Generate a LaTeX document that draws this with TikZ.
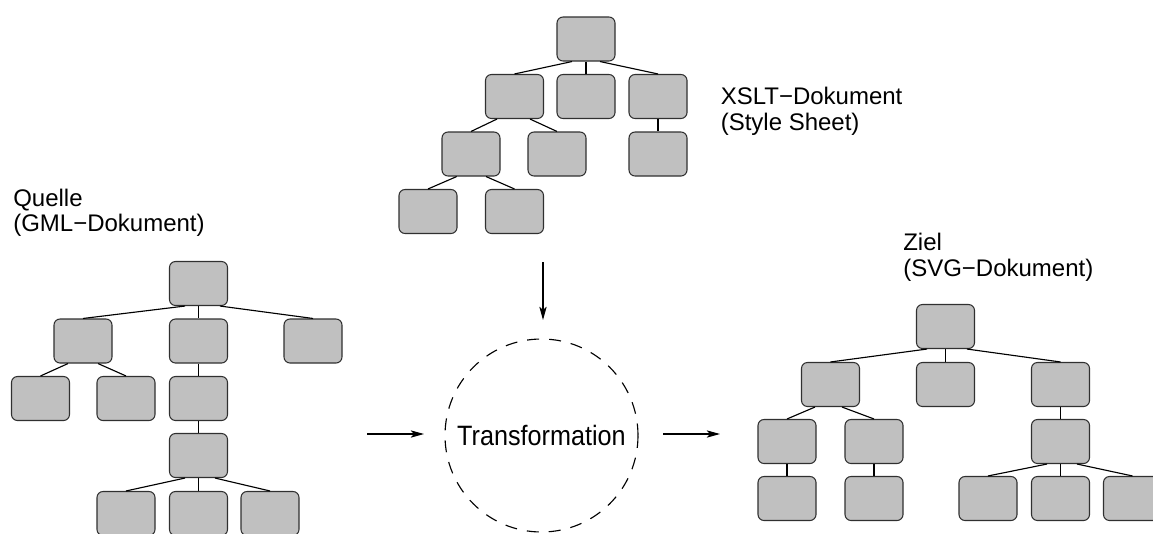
\documentclass[tikz,border=0pt]{standalone}
\usepackage{fontspec}
\setmainfont{Liberation Sans}
\usetikzlibrary{calc,arrows.meta}
\definecolor{boxgray}{HTML}{C0C0C0}
\definecolor{boxline}{HTML}{303030}
\tikzset{
  tbox/.style={rectangle, rounded corners=4.5pt, minimum width=43.5pt, minimum height=33pt, inner sep=0pt, fill=boxgray, draw=boxline, line width=0.8pt},
  tline/.style={line width=0.85pt, black},
  flow/.style={line width=0.85pt, black, -{Stealth[length=10pt, width=5.5pt, inset=2.5pt]}},
  lbl/.style={anchor=base west, inner sep=0pt, align=left, font={\fontsize{18}{19.1}\selectfont}},
}
\newcommand\tedge[3]{\draw[tline] ($(#1.south)+(#2,0)$) -- (#3.north);}
\begin{document}
\begin{tikzpicture}[x=0.75pt, y=-0.75pt]
\useasboundingbox (0,0) rectangle (1153,533);
% XSLT tree
\node[tbox] (xr) at (586,39) {};
\node[tbox] (xa) at (514.5,96.5) {};
\node[tbox] (xb) at (586,96.5) {};
\node[tbox] (xc) at (658,96.5) {};
\node[tbox] (xaa) at (471,154) {};
\node[tbox] (xab) at (557,154) {};
\node[tbox] (xca) at (658,154) {};
\node[tbox] (xaaa) at (428,211.5) {};
\node[tbox] (xaab) at (514.5,211.5) {};
\tedge{xr}{-14}{xa}
\tedge{xr}{0}{xb}
\tedge{xr}{14}{xc}
\tedge{xa}{-17.5}{xaa}
\tedge{xa}{15.5}{xab}
\tedge{xc}{0}{xca}
\tedge{xaa}{-14.3}{xaaa}
\tedge{xaa}{15}{xaab}
% GML tree
\node[tbox] (gr) at (198.5,283.5) {};
\node[tbox] (ga) at (83,341) {};
\node[tbox] (gb) at (198.5,341) {};
\node[tbox] (gc) at (313,341) {};
\node[tbox] (gaa) at (40.5,398.5) {};
\node[tbox] (gab) at (126,398.5) {};
\node[tbox] (gba) at (198.5,398.5) {};
\node[tbox] (gbaa) at (198.5,455.5) {};
\node[tbox] (g5a) at (126,513.5) {};
\node[tbox] (g5b) at (198.5,513.5) {};
\node[tbox] (g5c) at (270,513.5) {};
\tedge{gr}{-13.5}{ga}
\tedge{gr}{0}{gb}
\tedge{gr}{21.5}{gc}
\tedge{ga}{-15}{gaa}
\tedge{ga}{15}{gab}
\tedge{gb}{0}{gba}
\tedge{gba}{0}{gbaa}
\tedge{gbaa}{-13.5}{g5a}
\tedge{gbaa}{0}{g5b}
\tedge{gbaa}{16.5}{g5c}
% SVG tree
\node[tbox] (sr) at (945.5,326.5) {};
\node[tbox] (sa) at (830.5,384.5) {};
\node[tbox] (sb) at (945.5,384.5) {};
\node[tbox] (sc) at (1060.5,384.5) {};
\node[tbox] (saa) at (787,441.5) {};
\node[tbox] (sab) at (874,441.5) {};
\node[tbox] (sca) at (1060.5,441.5) {};
\node[tbox] (saaa) at (787,498.5) {};
\node[tbox] (saba) at (874,498.5) {};
\node[tbox] (sca1) at (988,498.5) {};
\node[tbox] (sca2) at (1060.5,498.5) {};
\node[tbox] (sca3) at (1132.5,498.5) {};
\tedge{sr}{-18.5}{sa}
\tedge{sr}{0}{sb}
\tedge{sr}{21.5}{sc}
\tedge{sa}{-15.5}{saa}
\tedge{sa}{11.5}{sab}
\tedge{saa}{0}{saaa}
\tedge{sab}{0}{saba}
\tedge{sc}{0}{sca}
\tedge{sca}{-13.5}{sca1}
\tedge{sca}{0}{sca2}
\tedge{sca}{16.5}{sca3}
% labels (anchor at baseline of the second line)
\node[lbl] (lx) at (720.5,130) {XSLT−Dokument\\(Style Sheet)};
\node[lbl] (lq) at (13,231.5) {Quelle\\(GML−Dokument)};
\node[lbl] (lz) at (903,276) {Ziel\\(SVG−Dokument)};
% transformation
\node[circle, draw, dash pattern=on 9pt off 7.5pt, line width=0.85pt, minimum size=144.75pt, inner sep=0pt,
      font={\fontsize{21}{25}\selectfont}] (t) at (541.5,435.5) {\scalebox{0.9}[1]{Transformation}};
\coordinate (d1) at (543,262);
\coordinate (d2) at (543,320);
\coordinate (l1) at (367,434);
\coordinate (l2) at (424,434);
\coordinate (r1) at (663,434);
\coordinate (r2) at (720,434);
\draw[flow] (d1) -- (d2);
\draw[flow] (l1) -- (l2);
\draw[flow] (r1) -- (r2);
\end{tikzpicture}
\end{document}
